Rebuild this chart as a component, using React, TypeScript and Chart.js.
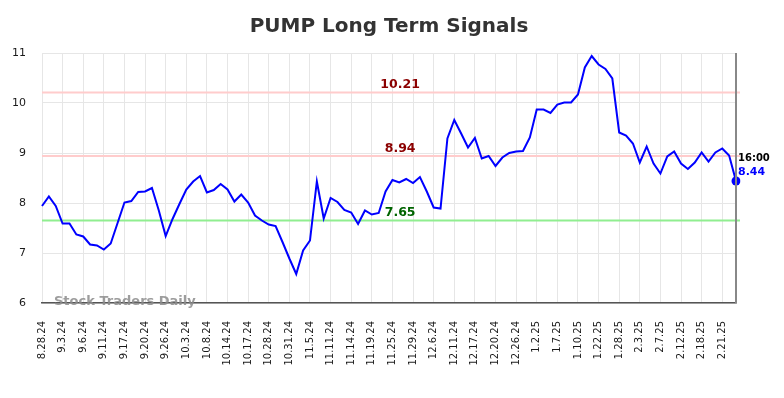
import React, { useEffect, useRef } from "react";
import { Chart, registerables } from "chart.js";

Chart.register(...registerables);

const tickLabels = [
  "8.28.24", "9.3.24", "9.6.24", "9.11.24", "9.17.24", "9.20.24", "9.26.24", "10.3.24",
  "10.8.24", "10.14.24", "10.17.24", "10.28.24", "10.31.24", "11.5.24", "11.11.24", "11.14.24",
  "11.19.24", "11.25.24", "11.29.24", "12.6.24", "12.11.24", "12.17.24", "12.20.24", "12.26.24",
  "1.2.25", "1.7.25", "1.10.25", "1.22.25", "1.28.25", "2.3.25", "2.7.25", "2.12.25",
  "2.18.25", "2.21.25",
];

const prices = [
  7.94, 8.13, 7.94, 7.59, 7.59, 7.37, 7.33, 7.17, 7.15, 7.07,
  7.19, 7.6, 8.01, 8.04, 8.22, 8.23, 8.3, 7.85, 7.34, 7.68,
  7.98, 8.27, 8.43, 8.54, 8.21, 8.26, 8.38, 8.27, 8.03, 8.17,
  8.01, 7.75, 7.65, 7.57, 7.54, 7.22, 6.89, 6.58, 7.05, 7.25,
  8.43, 7.69, 8.1, 8.02, 7.86, 7.81, 7.58, 7.85, 7.77, 7.8,
  8.23, 8.46, 8.41, 8.48, 8.4, 8.52, 8.23, 7.91, 7.89, 9.29,
  9.66, 9.39, 9.11, 9.3, 8.89, 8.94, 8.74, 8.91, 9.0, 9.03,
  9.04, 9.31, 9.87, 9.87, 9.8, 9.97, 10.01, 10.01, 10.17, 10.71,
  10.94, 10.77, 10.68, 10.49, 9.41, 9.35, 9.19, 8.81, 9.13, 8.79,
  8.59, 8.93, 9.03, 8.79, 8.68, 8.81, 9.01, 8.83, 9.01, 9.09,
  8.95, 8.44,
];

const levelValues = [10.21, 8.94, 7.65];
const levelLineColors = ["#ffcccc", "#ffcccc", "#90ee90"];
const levelTextColors = ["#8b0000", "#8b0000", "#006400"];
const lastTime = "16:00";
const labelEvery = 3;

const FONT = "'DejaVu Sans', sans-serif";

const overlayPlugin = {
  id: "overlay",
  beforeDatasetsDraw(chart: any) {
    const { ctx, chartArea } = chart;
    const y = chart.scales.y;
    ctx.save();
    levelValues.forEach((v, i) => {
      const py = y.getPixelForValue(v);
      ctx.strokeStyle = levelLineColors[i];
      ctx.lineWidth = 2;
      ctx.beginPath();
      ctx.moveTo(chartArea.left, py);
      ctx.lineTo(chartArea.right + 4, py);
      ctx.stroke();
    });
    ctx.restore();
  },
  afterDatasetsDraw(chart: any) {
    const { ctx, chartArea } = chart;
    const y = chart.scales.y;
    const x = chart.scales.x;
    ctx.save();
    ctx.font = `bold 12.5px ${FONT}`;
    ctx.textAlign = "center";
    ctx.textBaseline = "middle";
    const lx = chartArea.left + (chartArea.right - chartArea.left) * 0.516;
    levelValues.forEach((v, i) => {
      const py = y.getPixelForValue(v);
      ctx.fillStyle = levelTextColors[i];
      ctx.fillText(v.toFixed(2), lx, py - 7.5);
    });
    const last = prices.length - 1;
    const px = x.getPixelForValue(last);
    ctx.strokeStyle = "#888888";
    ctx.lineWidth = 2;
    ctx.beginPath();
    ctx.moveTo(px, chartArea.top);
    ctx.lineTo(px, chartArea.bottom);
    ctx.stroke();
    ctx.font = `bold 13px ${FONT}`;
    ctx.textAlign = "left";
    ctx.textBaseline = "middle";
    ctx.fillStyle = "rgba(140,140,140,0.85)";
    ctx.fillText("Stock Traders Daily", chartArea.left + 12, chartArea.bottom - 1);
    const py = y.getPixelForValue(prices[last]);
    ctx.font = `bold 10px ${FONT}`;
    ctx.fillStyle = "#000000";
    ctx.fillText(lastTime, px + 2, py - 23);
    ctx.fillStyle = "#0000ff";
    ctx.font = `bold 11px ${FONT}`;
    ctx.fillText(prices[last].toFixed(2), px + 2, py - 9);
    ctx.restore();
  },
};

export default function App() {
  const canvasRef = useRef<HTMLCanvasElement | null>(null);

  useEffect(() => {
    document.body.style.margin = "0";
    const canvas = canvasRef.current;
    if (!canvas) return;
    const labels = prices.map((_, i) => String(i));
    const last = prices.length - 1;
    const chart = new Chart(canvas, {
      type: "line",
      data: {
        labels,
        datasets: [
          {
            data: prices,
            borderColor: "#0000ff",
            backgroundColor: "#0000ff",
            borderWidth: 2,
            tension: 0,
            pointRadius: (c: any) => (c.dataIndex === last ? 4.5 : 0),
            pointHoverRadius: 0,
            pointBackgroundColor: "#0000ff",
            pointBorderWidth: 0,
          },
        ],
      },
      options: {
        animation: false,
        responsive: false,
        devicePixelRatio: 1,
        events: [],
        layout: { padding: { left: 0, right: 48, top: 0, bottom: 0 } },
        plugins: {
          legend: { display: false },
          tooltip: { enabled: false },
          title: {
            display: true,
            fullSize: false,
            text: "PUMP Long Term Signals",
            color: "#333333",
            font: { family: FONT, size: 20, weight: "bold", lineHeight: 1.2 },
            padding: { top: 15, bottom: 14 },
          },
        },
        scales: {
          x: {
            type: "category",
            offset: false,
            grid: { color: "#e6e6e6", lineWidth: 1, drawTicks: false },
            border: { display: true, color: "#555555", width: 1.5 },
            ticks: {
              autoSkip: false,
              minRotation: 90,
              maxRotation: 90,
              padding: 18,
              color: "#1a1a1a",
              font: { family: FONT, size: 10 },
              callback: (_v: any, i: number) =>
                i % labelEvery === 0 ? tickLabels[i / labelEvery] : null,
            },
            afterFit: (s: any) => {
              s.height = 95;
            },
          },
          y: {
            min: 6,
            max: 11,
            grid: { color: "#e6e6e6", lineWidth: 1, drawTicks: false },
            border: { display: false },
            ticks: {
              stepSize: 1,
              padding: 16,
              color: "#1a1a1a",
              font: { family: FONT, size: 11 },
            },
            afterFit: (s: any) => {
              s.width = 42;
            },
          },
        },
      },
      plugins: [overlayPlugin],
    });
    return () => chart.destroy();
  }, []);

  return (
    <div style={{ width: 784, height: 398 }}>
      <canvas ref={canvasRef} width={784} height={398} style={{ display: "block" }} />
    </div>
  );
}
